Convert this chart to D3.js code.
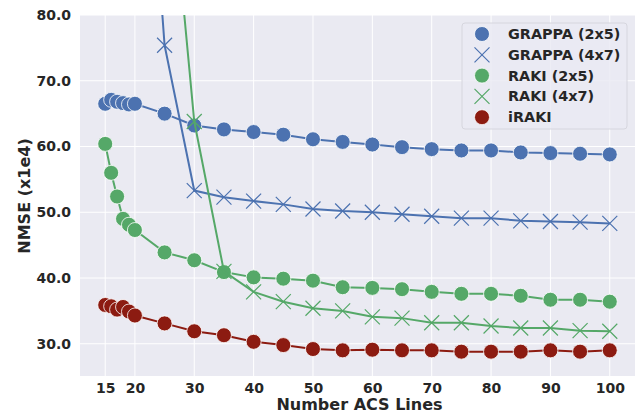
<!DOCTYPE html>
<html>
<head>
<meta charset="utf-8">
<script src="https://cdn.jsdelivr.net/npm/d3@7"></script>
<style>
  body { margin: 0; background: #fff; }
  text { font-family: "DejaVu Sans", sans-serif; font-weight: bold; fill: #262626; }
</style>
</head>
<body>
<script>
// acs line counts
var acsShort = [15, 16, 17, 18, 19, 20, 25, 30, 35, 40, 45, 50, 55, 60, 65, 70, 75, 80, 85, 90, 95, 100];
var acsGrappa47 = [20, 25, 30, 35, 40, 45, 50, 55, 60, 65, 70, 75, 80, 85, 90, 95, 100];
var acsRaki47 = [25, 30, 35, 40, 45, 50, 55, 60, 65, 70, 75, 80, 85, 90, 95, 100];

// NMSE (x1e4)
var grappa25 = [66.5, 67.1, 66.8, 66.6, 66.4, 66.5, 65.0, 63.2, 62.6, 62.2, 61.8, 61.1, 60.7, 60.3, 59.9, 59.6, 59.4, 59.4, 59.1, 59.0, 58.9, 58.8];
var grappa47 = [137, 75.4, 53.3, 52.3, 51.7, 51.2, 50.5, 50.2, 50.0, 49.7, 49.4, 49.1, 49.1, 48.7, 48.6, 48.5, 48.3];
var raki25 = [60.4, 56.0, 52.4, 49.0, 48.1, 47.3, 43.9, 42.7, 40.9, 40.1, 39.9, 39.6, 38.6, 38.5, 38.3, 37.9, 37.6, 37.6, 37.3, 36.7, 36.7, 36.4];
var raki47 = [112, 63.8, 41.0, 37.9, 36.4, 35.4, 35.0, 34.1, 33.9, 33.2, 33.2, 32.7, 32.4, 32.4, 32.0, 31.9];
var iraki = [35.9, 35.7, 35.2, 35.6, 34.9, 34.3, 33.1, 31.9, 31.3, 30.3, 29.8, 29.2, 29.0, 29.1, 29.0, 29.0, 28.8, 28.8, 28.8, 29.0, 28.8, 29.0];

var xTicks = [15, 20, 30, 40, 50, 60, 70, 80, 90, 100];
var yTicks = [30, 40, 50, 60, 70, 80];

var series = [
  { name: "GRAPPA (2x5)", xs: acsShort, ys: grappa25, color: "#4C72B0", marker: "o" },
  { name: "GRAPPA (4x7)", xs: acsGrappa47, ys: grappa47, color: "#4C72B0", marker: "x" },
  { name: "RAKI (2x5)", xs: acsShort, ys: raki25, color: "#55A868", marker: "o" },
  { name: "RAKI (4x7)", xs: acsRaki47, ys: raki47, color: "#55A868", marker: "x" },
  { name: "iRAKI", xs: acsShort, ys: iraki, color: "#8C1B11", marker: "o" }
];

var svgWidth = 639, svgHeight = 415;
var margin = { top: 15, right: 4, bottom: 39, left: 80 };
var width = svgWidth - margin.left - margin.right;
var height = svgHeight - margin.top - margin.bottom;

var svg = d3.select("body").append("svg")
  .attr("width", svgWidth)
  .attr("height", svgHeight);

var g = svg.append("g")
  .attr("transform", `translate(${margin.left}, ${margin.top})`);

var x = d3.scaleLinear().domain([10.75, 104.25]).range([0, width]);
var y = d3.scaleLinear().domain([25.1, 80]).range([height, 0]);

// background + grid
g.append("rect").attr("width", width).attr("height", height).attr("fill", "#EAEAF2");

g.selectAll(".vgrid").data(xTicks).enter().append("line")
  .attr("x1", d => x(d)).attr("x2", d => x(d))
  .attr("y1", 0).attr("y2", height)
  .attr("stroke", "#fff").attr("stroke-width", 1);

g.selectAll(".hgrid").data(yTicks).enter().append("line")
  .attr("y1", d => y(d)).attr("y2", d => y(d))
  .attr("x1", 0).attr("x2", width)
  .attr("stroke", "#fff").attr("stroke-width", 1);

// axes (labels only, seaborn style)
var xAxis = g.append("g")
  .attr("transform", `translate(0, ${height})`)
  .call(d3.axisBottom(x).tickValues(xTicks).tickSize(0).tickPadding(7));
var yAxis = g.append("g")
  .call(d3.axisLeft(y).tickValues(yTicks).tickSize(0).tickPadding(9).tickFormat(d3.format(".1f")));
[xAxis, yAxis].forEach(function(a) {
  a.select(".domain").remove();
  a.selectAll("text").style("font-size", "14px").style("font-family", "DejaVu Sans").style("font-weight", "bold").attr("fill", "#262626");
});

svg.append("defs").append("clipPath").attr("id", "clip")
  .append("rect").attr("width", width).attr("height", height);

var plot = g.append("g").attr("clip-path", "url(#clip)");

var line = d3.line().x(d => x(d[0])).y(d => y(d[1]));

function drawMarker(sel, s, size) {
  if (s.marker === "o") {
    sel.append("circle").attr("r", size)
      .attr("fill", s.color).attr("stroke", "#fff").attr("stroke-width", 0.8);
  } else {
    var h = size;
    sel.append("path")
      .attr("d", `M${-h},${-h}L${h},${h}M${-h},${h}L${h},${-h}`)
      .attr("stroke", s.color).attr("stroke-width", 1.2).attr("fill", "none");
  }
}

series.forEach(function(s) {
  var pts = s.xs.map((v, i) => [v, s.ys[i]]);
  var sg = plot.append("g");
  sg.append("path").datum(pts)
    .attr("d", line)
    .attr("fill", "none")
    .attr("stroke", s.color)
    .attr("stroke-width", 2);
  sg.selectAll(".pt").data(pts).enter().append("g")
    .attr("transform", d => `translate(${x(d[0])}, ${y(d[1])})`)
    .each(function() { drawMarker(d3.select(this), s, 7.5); });
});

// axis titles
svg.append("text")
  .attr("x", margin.left + width / 2 + 2)
  .attr("y", 410)
  .attr("text-anchor", "middle")
  .style("font-size", "16px")
  .text("Number ACS Lines");

svg.append("text")
  .attr("transform", "translate(30, 196) rotate(-90)")
  .attr("text-anchor", "middle")
  .style("font-size", "16px")
  .text("NMSE (x1e4)");

// legend
var legend = svg.append("g").attr("transform", "translate(462, 23)");
legend.append("rect")
  .attr("width", 165).attr("height", 106).attr("rx", 3)
  .attr("fill", "#EAEAF2").attr("fill-opacity", 0.8)
  .attr("stroke", "#d6d6de").attr("stroke-width", 1);

series.forEach(function(s, i) {
  var row = legend.append("g").attr("transform", `translate(0, ${11 + i * 20.8})`);
  var m = row.append("g").attr("transform", "translate(20, 0)");
  drawMarker(m, s, 7.5);
  row.append("text")
    .attr("x", 46).attr("y", 5)
    .style("font-size", "14.4px")
    .text(s.name);
});
</script>
</body>
</html>
